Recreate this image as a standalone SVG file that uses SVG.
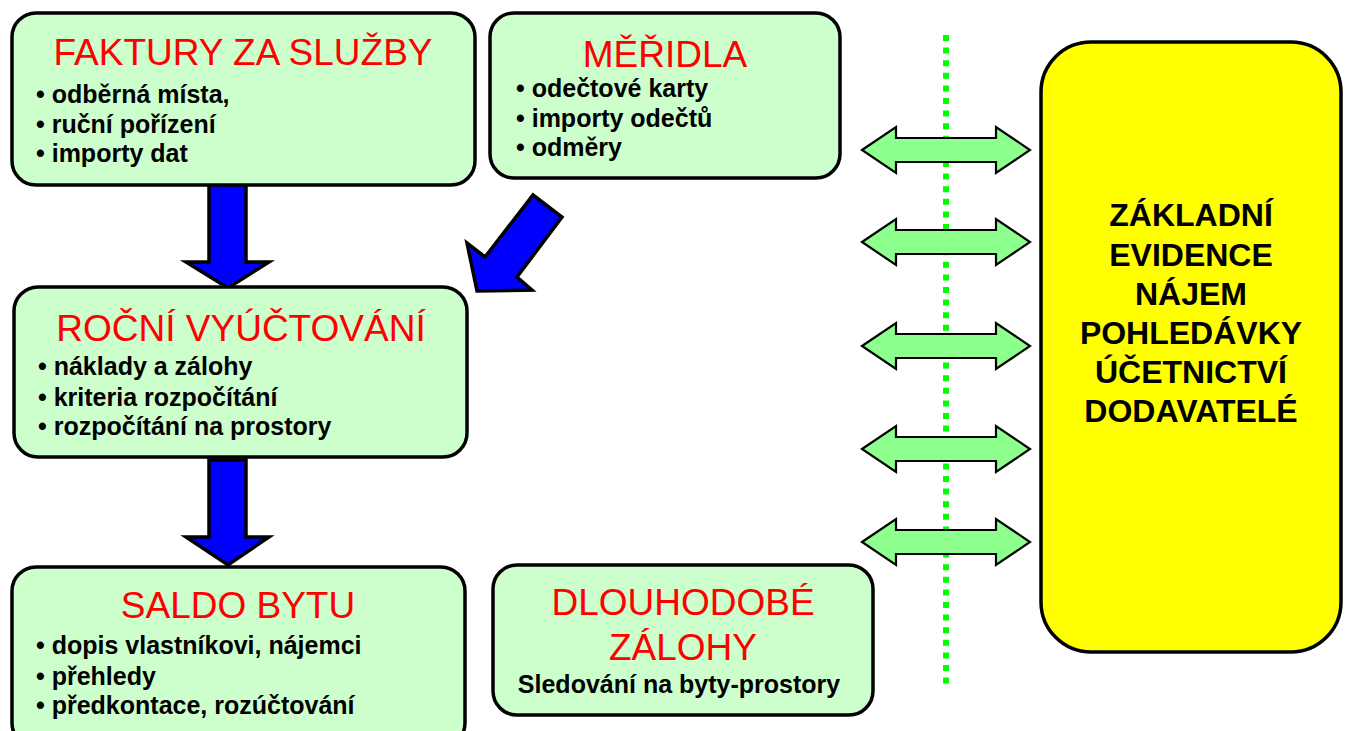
<svg xmlns="http://www.w3.org/2000/svg" width="1347" height="731" viewBox="0 0 1347 731">
<style>
.box{fill:#ccffcc;stroke:#000;stroke-width:3.5}
.ybox{fill:#ffff00;stroke:#000;stroke-width:3.5}
.title{font-family:"Liberation Sans",Arial,sans-serif;font-size:37px;fill:#ff0000;text-anchor:middle}
.item{font-family:"Liberation Sans",Arial,sans-serif;font-size:25px;font-weight:bold;fill:#000}
.ytext{font-family:"Liberation Sans",Arial,sans-serif;font-size:32px;font-weight:bold;fill:#000;text-anchor:middle}
.blue{fill:#0000ff;stroke:#000;stroke-width:3.5;stroke-linejoin:miter}
.green{fill:#8cff8c;stroke:#000;stroke-width:2.2}
.sep{stroke:#00ff00;stroke-width:6;stroke-dasharray:6 6.6;fill:none}
</style>
<defs>
<polygon id="dbl" points="0,0 34,-23 34,-12 134,-12 134,-23 168,0 134,23 134,12 34,12 34,23" class="green"/>
</defs>
<rect width="1347" height="731" fill="#fff"/>

<line id="separator" class="sep" x1="946" y1="35" x2="946" y2="687"/>

<g id="connectors">
<polygon class="blue" points="209,184 246,184 246,262 269,262 228,288 186,262 209,262"/>
<polygon class="blue" points="209,460 246,460 246,537 269,537 228,565 186,537 209,537"/>
<polygon class="blue" points="533,195 562,217 517,277 532,290 477,291 467,243 485,257"/>
<use href="#dbl" x="862" y="150"/>
<use href="#dbl" x="862" y="242"/>
<use href="#dbl" x="862" y="346"/>
<use href="#dbl" x="862" y="449"/>
<use href="#dbl" x="862" y="542"/>
</g>

<g id="faktury">
<rect class="box" x="12" y="13" width="463" height="172" rx="24"/>
<text class="title" x="243" y="65">FAKTURY ZA SLUŽBY</text>
<text class="item" x="36" y="103">• odběrná místa,</text>
<text class="item" x="36" y="133">• ruční pořízení</text>
<text class="item" x="36" y="162">• importy dat</text>
</g>

<g id="meridla">
<rect class="box" x="490" y="13" width="350" height="165" rx="24"/>
<text class="title" x="665" y="67">MĚŘIDLA</text>
<text class="item" x="516" y="97">• odečtové karty</text>
<text class="item" x="516" y="127">• importy odečtů</text>
<text class="item" x="516" y="156">• odměry</text>
</g>

<g id="rocni">
<rect class="box" x="14" y="287" width="453" height="170" rx="24"/>
<text class="title" x="241" y="341">ROČNÍ VYÚČTOVÁNÍ</text>
<text class="item" x="38" y="375">• náklady a zálohy</text>
<text class="item" x="38" y="406">• kriteria rozpočítání</text>
<text class="item" x="38" y="435">• rozpočítání na prostory</text>
</g>

<g id="saldo">
<rect class="box" x="12" y="567" width="453" height="180" rx="24"/>
<text class="title" x="238" y="618">SALDO BYTU</text>
<text class="item" x="36" y="654">• dopis vlastníkovi, nájemci</text>
<text class="item" x="36" y="685">• přehledy</text>
<text class="item" x="36" y="714">• předkontace, rozúčtování</text>
</g>

<g id="zalohy">
<rect class="box" x="493" y="565" width="380" height="150" rx="24"/>
<text class="title" x="683" y="615">DLOUHODOBÉ</text>
<text class="title" x="683" y="660">ZÁLOHY</text>
<text class="item" x="679" y="693" text-anchor="middle">Sledování na byty-prostory</text>
</g>

<g id="zakladni">
<rect class="ybox" x="1041" y="42" width="300" height="610" rx="50"/>
<text class="ytext" x="1191" y="226">ZÁKLADNÍ</text>
<text class="ytext" x="1191" y="266">EVIDENCE</text>
<text class="ytext" x="1191" y="305">NÁJEM</text>
<text class="ytext" x="1191" y="344">POHLEDÁVKY</text>
<text class="ytext" x="1191" y="383">ÚČETNICTVÍ</text>
<text class="ytext" x="1191" y="422">DODAVATELÉ</text>
</g>
</svg>
